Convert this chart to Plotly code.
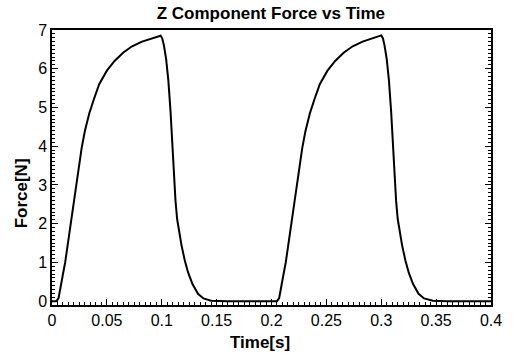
import plotly.graph_objects as go

# Pulse 1
t1 = [0.0, 0.004, 0.006, 0.008, 0.010, 0.012, 0.015, 0.018, 0.021, 0.024, 0.027,
      0.030, 0.034, 0.038, 0.043, 0.050, 0.057, 0.065, 0.073, 0.082, 0.091, 0.097,
      0.099, 0.1005, 0.102, 0.104, 0.106, 0.108, 0.1095, 0.111, 0.1125, 0.114, 0.116,
      0.118, 0.121, 0.124, 0.128, 0.133, 0.138, 0.145, 0.160, 0.180, 0.200]
f1 = [0.0, 0.0, 0.08, 0.35, 0.7, 1.0, 1.6, 2.2, 2.75, 3.3, 3.95,
      4.4, 4.85, 5.2, 5.6, 5.95, 6.2, 6.42, 6.58, 6.7, 6.78, 6.82,
      6.85, 6.78, 6.6, 6.25, 5.7, 4.9, 4.0, 3.2, 2.6, 2.12, 1.75,
      1.44, 1.05, 0.74, 0.44, 0.19, 0.07, 0.01, 0.0, 0.0, 0.0]

# Pulse 2
t2 = [0.205, 0.207, 0.209, 0.211, 0.213, 0.216, 0.219, 0.222, 0.225, 0.228,
      0.231, 0.235, 0.239, 0.244, 0.251, 0.258, 0.266, 0.274, 0.283, 0.292, 0.298,
      0.300, 0.3015, 0.303, 0.305, 0.307, 0.309, 0.3105, 0.312, 0.3135, 0.315, 0.317,
      0.319, 0.322, 0.325, 0.329, 0.334, 0.339, 0.347, 0.360, 0.380, 0.400]
f2 = [0.0, 0.08, 0.35, 0.7, 1.0, 1.6, 2.2, 2.75, 3.3, 3.95,
      4.4, 4.85, 5.2, 5.6, 5.95, 6.2, 6.42, 6.58, 6.7, 6.78, 6.83,
      6.86, 6.79, 6.6, 6.25, 5.7, 4.9, 4.0, 3.2, 2.6, 2.12, 1.75,
      1.44, 1.05, 0.74, 0.44, 0.19, 0.07, 0.01, 0.0, 0.0, 0.0]

time = t1 + t2
force = f1 + f2

x_ticks = [0, 0.05, 0.1, 0.15, 0.2, 0.25, 0.3, 0.35, 0.4]
x_tick_text = ["0", "0.05", "0.1", "0.15", "0.2", "0.25", "0.3", "0.35", "0.4"]
y_ticks = [0, 1, 2, 3, 4, 5, 6, 7]

FONT = "Liberation Sans, Arial, Helvetica, sans-serif"

fig = go.Figure()
fig.add_trace(go.Scatter(x=time, y=force, mode="lines",
                         line=dict(color="black", width=2), showlegend=False))

fig.update_layout(
    width=514, height=358,
    margin=dict(l=52, r=18, t=30, b=53),
    paper_bgcolor="white", plot_bgcolor="white",
    font=dict(family=FONT, color="black", size=16),
    title=dict(text="<b>Z Component Force vs Time</b>", x=0.527, xanchor="center",
               y=1 - 13 / 358, yanchor="middle", yref="container",
               font=dict(size=17, family=FONT, color="black")),
    xaxis=dict(range=[0, 0.4], tickvals=x_ticks, ticktext=x_tick_text,
               showgrid=False, zeroline=False, showline=True, linecolor="black",
               linewidth=1.5, mirror=True, ticks="inside", ticklen=6, tickcolor="black",
               minor=dict(ticks="inside", ticklen=3, dtick=0.005, tickcolor="black"),
               tickfont=dict(size=16)),
    yaxis=dict(range=[-0.1, 7.0], tickvals=y_ticks,
               showgrid=False, zeroline=False, showline=True, linecolor="black",
               linewidth=1.5, mirror="allticks", ticks="inside", ticklen=6, tickcolor="black",
               minor=dict(ticks="inside", ticklen=3, dtick=0.1, tickcolor="black"),
               tickfont=dict(size=16)),
    annotations=[
        dict(text="<b>Time[s]</b>", xref="paper", yref="paper", x=0.473, y=-0.136,
             xanchor="center", yanchor="middle", showarrow=False,
             font=dict(size=17, family=FONT, color="black")),
        dict(text="<b>Force[N]</b>", xref="paper", yref="paper", x=-0.07, y=0.407,
             xanchor="center", yanchor="middle", showarrow=False, textangle=-90,
             font=dict(size=17, family=FONT, color="black")),
    ],
)

fig.write_html("out.html")
